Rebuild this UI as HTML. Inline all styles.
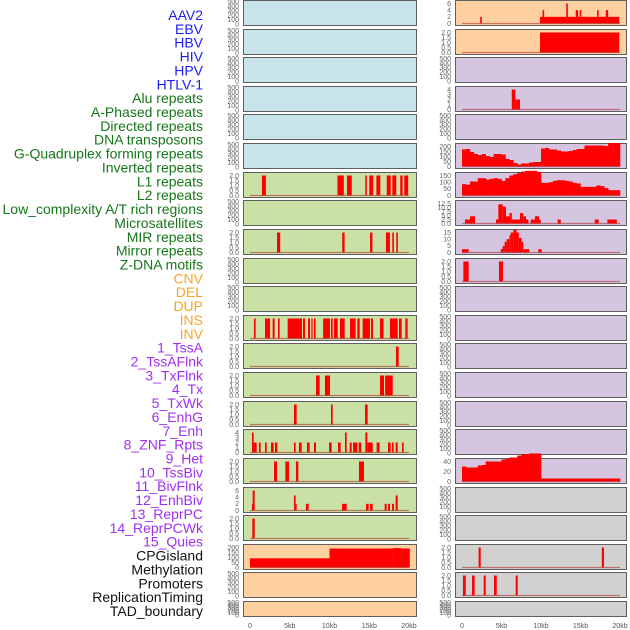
<!DOCTYPE html>
<html><head><meta charset="utf-8"><style>
html,body{margin:0;padding:0;background:#fff;}
svg{display:block;font-family:"Liberation Sans",sans-serif;}
</style></head><body>
<svg id="chart" width="630" height="630" viewBox="0 0 630 630">
<g id="labels"></g>
<g id="panels"></g>
<g id="xaxes"></g>
</svg>
<script>
// ---- Data (kb positions, heights) ----
const labelNames = ["AAV2","EBV","HBV","HIV","HPV","HTLV-1","Alu repeats","A-Phased repeats","Directed repeats","DNA transposons","G-Quadruplex forming repeats","Inverted repeats","L1 repeats","L2 repeats","Low_complexity A/T rich regions","Microsatellites","MIR repeats","Mirror repeats","Z-DNA motifs","CNV","DEL","DUP","INS","INV","1_TssA","2_TssAFlnk","3_TxFlnk","4_Tx","5_TxWk","6_EnhG","7_Enh","8_ZNF_Rpts","9_Het","10_TssBiv","11_BivFlnk","12_EnhBiv","13_ReprPC","14_ReprPCWk","15_Quies","CPGisland","Methylation","Promoters","ReplicationTiming","TAD_boundary"];
const labelGroups = [6,13,5,15,5];
const groupColors = ["#1c1cf2","#16761a","#f6a623","#a02ff0","#111111"];

const ticksEmpty = [0,100,200,300,400,500];
const ticks2 = [0,0.5,1.0,1.5,2.0];
const ticks4 = [0,1,2,3,4];
const ticks6 = [0,2,4,6];
const ticksCpg = [0,50,100,150,200];
const ticksGq = [0,50,100,150,200];
const ticksL1 = [0,50,100,150];
const ticksLow = [0,2.5,5.0,7.5,10.0,12.5];
const ticksMir = [0,5,10,15];
const ticksBiv = [0,20,40];
const xTicks = [0,5,10,15,20];
const xTickLabels = ["0","5kb","10kb","15kb","20kb"];

// interval tracks: [startKb, endKb, height]
const leftL1 = [[1.5,2.0,2],[11.0,11.8,2],[12.2,12.8,2],[14.5,14.7,2],[15.0,15.5,2],[15.9,16.4,2],[17.2,17.7,2],[17.9,18.4,2],[18.9,19.2,2],[19.4,19.9,2]];
const leftMicro = [[3.4,3.8,2],[11.6,11.9,2],[15.1,15.4,2],[17.1,17.6,2],[17.9,18.1,2],[18.4,18.6,2]];
const leftINS = [[0.5,0.71,2],[1.89,2.52,2],[2.85,3.1,2],[3.52,3.73,2],[4.74,6.54,2],[6.67,6.92,2],[7.3,7.55,2],[7.72,7.88,2],[8.05,8.26,2],[9.2,10.06,2],[10.19,10.4,2],[10.57,11.03,2],[11.32,11.91,2],[12.58,13.29,2],[13.5,13.8,2],[14.17,15.09,2],[15.22,15.47,2],[16.35,16.8,2],[17.6,18.58,2],[18.74,19.08,2],[19.54,19.83,2]];
const leftTssA = [[18.36,18.7,2]];
const leftTxFlnk = [[8.3,8.76,2],[9.43,10.06,2],[16.35,16.86,2],[17.0,17.95,2]];
const leftTxWk = [[5.53,5.87,2],[10.19,10.4,2],[14.47,14.8,2]];
const leftEnh = [[0.25,0.46,4],[0.46,0.84,2],[1.13,1.34,2],[1.89,2.1,2],[2.64,2.98,2],[3.14,3.44,2],[5.53,5.74,2],[6.16,6.5,2],[7.17,7.5,2],[8.05,8.3,2],[9.94,10.27,2],[11.07,11.4,2],[11.95,12.16,4],[12.54,12.79,2],[12.96,13.5,2],[13.67,14.0,2],[14.51,14.76,4],[14.76,15.43,2],[15.93,16.3,2],[17.36,17.69,2],[17.86,18.07,2],[18.32,18.58,2],[19.12,19.33,2]];
const leftHet = [[3.02,3.4,2],[4.45,4.9,2],[5.78,6.08,2],[13.71,14.34,2]];
const leftBivFlnk = [[0.25,0.34,2],[0.34,0.59,6],[5.53,5.74,4.5],[5.74,5.87,2],[7.04,7.38,2],[11.57,12.16,2],[14.59,14.93,2],[15.09,15.43,2],[16.94,17.19,2],[17.36,17.61,2],[17.86,18.11,2],[18.32,18.58,4.5]];
const leftReprPC = [[0.29,0.59,2]];
const leftCpg = [[0,10,92],[10,18,190],[18,19,195],[19,20.1,190]];

const rightAAV2 = [[2.3,2.5,2],[9.87,19.9,2],[10.2,10.4,4],[13.2,13.4,6],[14.4,14.7,4],[14.9,15.1,4],[17.1,17.3,4],[18.2,18.5,4]];
const rightEBV = [[9.87,19.9,2]];
const rightAlu = [[6.3,6.75,4],[6.75,7.34,2]];
const rightLow = [[0.38,1.01,2.5],[1.01,1.65,4.5],[4.3,4.6,2.5],[4.6,5.15,12],[5.15,5.57,10.5],[5.57,6.0,4.5],[6.0,6.3,6.5],[6.3,7.34,2.5],[7.34,7.76,6.5],[7.76,8.1,4.5],[8.1,8.4,2.5],[8.7,9.24,2.5],[9.24,9.75,4.5],[9.75,9.96,2.5],[12.1,12.5,2.5],[16.8,17.3,2.5],[18.4,19.6,2.5]];
const rightMir = [[0,0.84,2.5],[4.9,5.15,2.5],[5.15,5.4,5],[5.4,5.65,8],[5.65,6.0,10],[6.0,6.16,13],[6.16,6.5,15],[6.5,6.9,17],[6.9,7.2,15],[7.2,7.55,11],[7.55,7.76,8],[7.76,8.5,2.5],[9.66,10.1,2.5]];
const rightZdna = [[0.17,0.84,2],[4.68,5.19,2]];
const rightCpg = [[2.1,2.37,2],[17.7,17.97,2]];
const rightMeth = [[0.12,0.47,2],[1.27,1.6,2],[2.75,3.0,2],[4.05,4.4,2],[6.8,7.05,2]];

// binned tracks (0.5 kb bins from 0)
const rightGq = [170,175,145,125,115,125,105,95,125,125,120,75,65,35,20,30,30,40,45,45,180,185,170,170,160,150,150,155,165,175,175,210,210,210,210,210,205,235,235,235];
const rightL1 = [85,80,105,105,130,130,120,125,130,125,110,130,150,160,170,180,185,185,185,175,95,95,100,110,115,115,110,105,95,90,65,65,65,65,75,70,55,40,40,40];
const rightBiv = [30,28,28,28,32,33,40,40,40,40,44,45,48,48,52,55,55,56,56,56,6,6,6,6,6,6,6,6,6,6,6,6,6,6,6,6,6,6,6,6];

// ---- Layout ----
const NS="http://www.w3.org/2000/svg";
const cols=[{x0:243,x1:416,ox:250,k:7.95,tx:239},{x0:455,x1:626,ox:462,k:7.9,tx:451}];
const BG={blue:"#c9e3ea",peach:"#fed0a0",green:"#c9e1a5",purple:"#d5c5e1",grey:"#d1d1d1"};
function rowTop(r){return Math.round(r*28.62);}
function el(tag,attrs,parent){const e=document.createElementNS(NS,tag);for(const k in attrs)e.setAttribute(k,attrs[k]);parent.appendChild(e);return e;}

// labels
const lg=document.getElementById('labels');
let gi=0,cnt=0;
labelNames.forEach((nm,i)=>{
  while(cnt>=labelGroups[gi]){cnt=0;gi++;}
  cnt++;
  const t=el('text',{x:203,y:(20+i*13.86).toFixed(1),'text-anchor':'end','font-size':'14',fill:groupColors[gi]},lg);
  
  
  t.textContent=nm;
});

const lbg=['blue','blue','blue','blue','blue','blue','green','green','green','green','green','green','green','green','green','green','green','green','green','peach','peach','peach'];
const rbg=['peach','peach','purple','purple','purple','purple','purple','purple','purple','purple','purple','purple','purple','purple','purple','purple','purple','grey','grey','grey','grey','grey'];
const leftData={6:[ticks2,'iv',leftL1],8:[ticks2,'iv',leftMicro],11:[ticks2,'iv',leftINS],12:[ticks2,'iv',leftTssA],13:[ticks2,'iv',leftTxFlnk],14:[ticks2,'iv',leftTxWk],15:[ticks4,'iv',leftEnh],16:[ticks2,'iv',leftHet],17:[ticks6,'iv',leftBivFlnk],18:[ticks2,'iv',leftReprPC],19:[ticksCpg,'iv',leftCpg]};
const rightData={0:[ticks6,'iv',rightAAV2],1:[ticks2,'iv',rightEBV],3:[ticks4,'iv',rightAlu],5:[ticksGq,'bin',rightGq],6:[ticksL1,'bin',rightL1],7:[ticksLow,'iv',rightLow],8:[ticksMir,'iv',rightMir],9:[ticks2,'iv',rightZdna],16:[ticksBiv,'bin',rightBiv],19:[ticks2,'iv',rightCpg],20:[ticks2,'iv',rightMeth]};

const pg=document.getElementById('panels');
for(let c=0;c<2;c++){
  const C=cols[c];
  for(let r=0;r<22;r++){
    const top=rowTop(r), h=(r===21?15:25);
    const spec=(c===0?leftData:rightData)[r];
    const g=el('g',{},pg);
    
    
    const rect=el('rect',{x:C.x0+0.5,y:top+0.5,width:C.x1-C.x0,height:h,fill:BG[(c===0?lbg:rbg)[r]],stroke:'#5f5f5f','stroke-width':1},g);
    
    
    const ticks=spec?spec[0]:ticksEmpty;
    const tmax=ticks[ticks.length-1];
    let yv;
    if(spec){yv=v=>top+23.5-v/tmax*20;}
    else{yv=v=>top+h-1-v/tmax*(h-2.5);}
    ticks.forEach(tv=>{
      const tt=el('text',{x:C.tx,y:(yv(tv)+2.4).toFixed(1),'text-anchor':'end','font-size':'7',fill:'#666'},g);
      
      
      tt.textContent=(ticks===ticks2?tv.toFixed(1):(ticks===ticksLow?tv.toFixed(1):String(tv)));
    });
    if(spec){
      const xs=kb=>C.ox+kb*C.k;
      const data=spec[2];
      if(spec[1]==='iv'){
        data.forEach(d=>{
          const b=el('rect',{x:xs(d[0]).toFixed(2),y:yv(d[2]).toFixed(2),width:Math.max(1,xs(d[1])-xs(d[0])).toFixed(2),height:(yv(0)-yv(d[2])).toFixed(2),fill:'#ff0000'},g);
          
          
        });
      } else {
        data.forEach((v,i)=>{
          const b=el('rect',{x:xs(i*0.5).toFixed(2),y:yv(v).toFixed(2),width:(xs(0.5)-xs(0)+0.3).toFixed(2),height:(yv(0)-yv(v)).toFixed(2),fill:'#ff0000'},g);
          
          
        });
      }
      const bl=el('line',{x1:xs(0),x2:xs(20),y1:yv(0),y2:yv(0),stroke:'#b03030','stroke-width':1.2,'stroke-opacity':0.6},g);
      
      
    }
  }
}
// x axes
const xg=document.getElementById('xaxes');
for(let c=0;c<2;c++){
  const C=cols[c];
  xTicks.forEach((kb,i)=>{
    const t=el('text',{x:(C.ox+kb*C.k).toFixed(1),y:628,'text-anchor':'middle','font-size':'7',fill:'#555'},xg);
    
    
    t.textContent=xTickLabels[i];
  });
}
</script>
</body></html>
